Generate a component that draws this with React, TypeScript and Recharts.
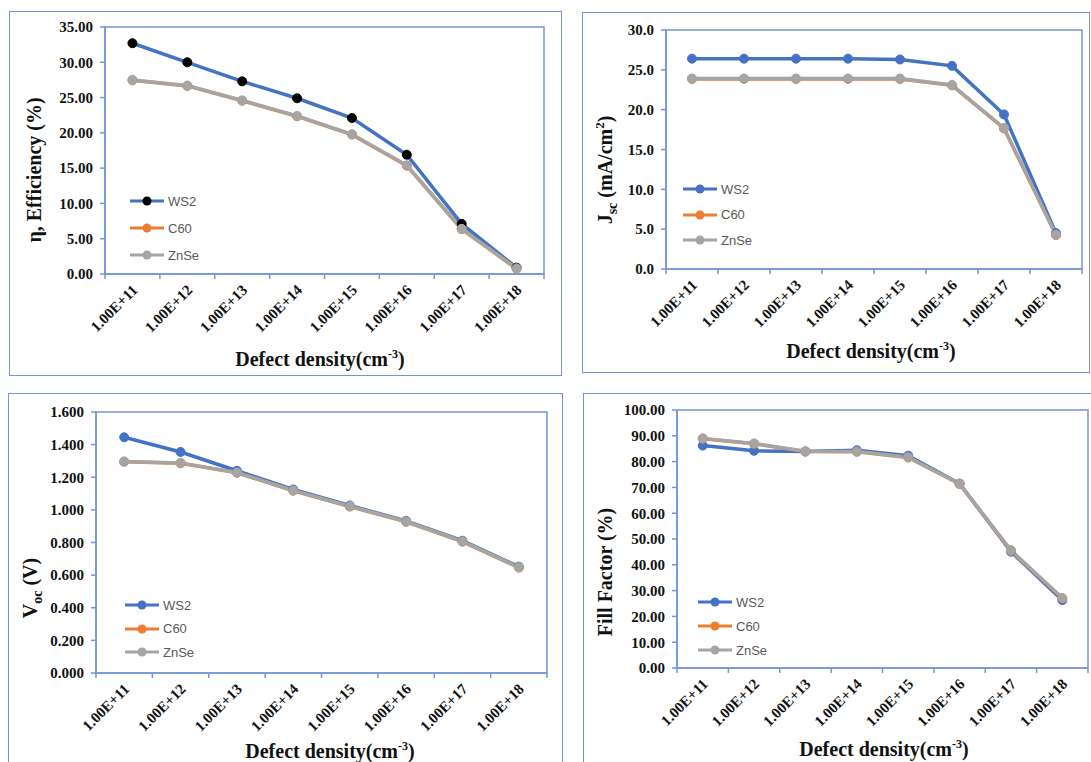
import React from "react";
import { LineChart, Line, XAxis, YAxis, ReferenceArea, Legend } from "recharts";

// defect density categories (x axis)
const densities = ["1.00E+11", "1.00E+12", "1.00E+13", "1.00E+14", "1.00E+15", "1.00E+16", "1.00E+17", "1.00E+18"];

// efficiency (%)
const effWS2 = [32.7, 30.0, 27.3, 24.9, 22.1, 16.9, 7.1, 0.9];
const effC60 = [27.45, 26.65, 24.55, 22.35, 19.75, 15.35, 6.35, 0.75];
const effZnSe = [27.5, 26.7, 24.6, 22.4, 19.8, 15.4, 6.4, 0.8];
const effTicks = [0, 5, 10, 15, 20, 25, 30, 35];

// Jsc (mA/cm2)
const jscWS2 = [26.4, 26.4, 26.4, 26.4, 26.3, 25.5, 19.4, 4.5];
const jscC60 = [23.85, 23.85, 23.85, 23.85, 23.85, 23.05, 17.65, 4.25];
const jscZnSe = [23.9, 23.9, 23.9, 23.9, 23.9, 23.1, 17.7, 4.3];
const jscTicks = [0, 5, 10, 15, 20, 25, 30];

// Voc (V)
const vocWS2 = [1.445, 1.355, 1.24, 1.125, 1.027, 0.933, 0.811, 0.652];
const vocC60 = [1.295, 1.286, 1.227, 1.117, 1.02, 0.927, 0.805, 0.646];
const vocZnSe = [1.297, 1.288, 1.229, 1.119, 1.022, 0.929, 0.807, 0.648];
const vocTicks = [0, 0.2, 0.4, 0.6, 0.8, 1.0, 1.2, 1.4, 1.6];

// fill factor (%)
const ffWS2 = [86.2, 84.2, 83.9, 84.4, 82.3, 71.5, 45.1, 26.3];
const ffC60 = [88.9, 86.9, 83.9, 83.8, 81.6, 71.3, 45.5, 27.0];
const ffZnSe = [89.0, 87.0, 84.0, 83.9, 81.7, 71.4, 45.6, 27.1];
const ffTicks = [0, 10, 20, 30, 40, 50, 60, 70, 80, 90, 100];

const BLUE = "#4472C4";
const ORANGE = "#ED7D31";
const GRAY = "#A5A5A5";
const FRAME = "#7395DA";
const SERIF = "'Liberation Serif', 'Times New Roman', serif";
const SANS = "'Liberation Sans', Arial, sans-serif";

const series = [
  { key: "ws2", name: "WS2", color: BLUE },
  { key: "c60", name: "C60", color: ORANGE },
  { key: "znse", name: "ZnSe", color: GRAY },
];

type Box = { x: number; y: number; w: number; h: number };
type Rect = { l: number; t: number; r: number; b: number };

type PanelProps = {
  box: Box;
  plot: Rect;
  ws2: number[];
  c60: number[];
  znse: number[];
  ticks: number[];
  digits: number;
  yTitle: React.ReactNode;
  yTitleAt: [number, number];
  xTitleAt: [number, number];
  legendAt: [number, number];
  legendGap: number;
  ws2Dot: string;
};

function Panel(p: PanelProps) {
  const { box, plot } = p;
  const n = densities.length;
  const band = (plot.r - plot.l) / n;
  const yMax = p.ticks[p.ticks.length - 1];
  const data = densities.map((name, i) => ({
    x: i + 0.5,
    name,
    ws2: p.ws2[i],
    c60: p.c60[i],
    znse: p.znse[i],
  }));
  const boundaries = Array.from({ length: n + 1 }, (_, i) => i);

  const xTick = (props: any) => {
    const i = Math.round(props.payload.value);
    const label = densities[i];
    if (!label) return <g />;
    const ax = props.x + band / 2 + 6;
    const ay = props.y + 10;
    return (
      <text
        x={ax}
        y={ay}
        transform={`rotate(-45 ${ax} ${ay})`}
        textAnchor="end"
        fontFamily={SERIF}
        fontWeight={700}
        fontSize={15}
        fill="#111"
      >
        {label}
      </text>
    );
  };

  const [ytx, yty] = [p.yTitleAt[0] - box.x, p.yTitleAt[1] - box.y];
  const [xtx, xty] = [p.xTitleAt[0] - box.x, p.xTitleAt[1] - box.y];

  const renderLegend = () => (
    <div style={{ display: "flex", flexDirection: "column" }}>
      {series.map((s) => (
        <div key={s.key} style={{ display: "flex", alignItems: "center", height: p.legendGap }}>
          <svg width={34} height={12}>
            <line x1={0} y1={6} x2={34} y2={6} stroke={s.color} strokeWidth={3} />
            <circle cx={17} cy={6} r={4.5} fill={s.key === "ws2" ? p.ws2Dot : s.color} />
          </svg>
          <span style={{ marginLeft: 4, fontFamily: SANS, fontSize: 13, color: "#595959" }}>{s.name}</span>
        </div>
      ))}
    </div>
  );

  return (
    <>
      <div
        style={{
          position: "absolute",
          left: box.x,
          top: box.y,
          width: box.w,
          height: box.h,
          border: `1.5px solid ${FRAME}`,
          boxSizing: "border-box",
        }}
      />
      <div style={{ position: "absolute", left: box.x, top: box.y }}>
        <LineChart
          width={box.w}
          height={box.h}
          data={data}
          margin={{ top: plot.t - box.y, right: box.x + box.w - plot.r, left: 0, bottom: 0 }}
        >
          <XAxis
            dataKey="x"
            type="number"
            domain={[0, n]}
            ticks={boundaries}
            interval={0}
            height={box.y + box.h - plot.b}
            axisLine={{ stroke: FRAME, strokeWidth: 1.5 }}
            tickLine={{ stroke: FRAME, strokeWidth: 1.5 }}
            tickSize={5}
            tickMargin={2}
            tick={xTick}
            label={() => (
              <text x={xtx} y={xty + 7} textAnchor="middle" fontFamily={SERIF} fontWeight={700} fontSize={20} fill="#111">
                Defect density(cm
                <tspan dy={-8} fontSize={12}>
                  -3
                </tspan>
                <tspan dy={8}>)</tspan>
              </text>
            )}
          />
          <YAxis
            type="number"
            domain={[0, yMax]}
            ticks={p.ticks}
            interval={0}
            width={plot.l - box.x}
            axisLine={{ stroke: FRAME, strokeWidth: 1.5 }}
            tickLine={{ stroke: FRAME, strokeWidth: 1.5 }}
            tickSize={5}
            tickMargin={7}
            tick={{ fontFamily: SERIF, fontWeight: 700, fontSize: 15, fill: "#111" }}
            tickFormatter={(v: number) => v.toFixed(p.digits)}
            label={() => (
              <text
                x={ytx}
                y={yty + 7}
                transform={`rotate(-90 ${ytx} ${yty})`}
                textAnchor="middle"
                fontFamily={SERIF}
                fontWeight={700}
                fontSize={20}
                fill="#111"
              >
                {p.yTitle}
              </text>
            )}
          />
          <ReferenceArea
            x1={0}
            x2={n}
            y1={0}
            y2={yMax}
            fill="none"
            stroke={FRAME}
            strokeWidth={1.5}
            ifOverflow="visible"
          />
          <Legend
            layout="vertical"
            align="center"
            verticalAlign="middle"
            wrapperStyle={{
              left: p.legendAt[0] - box.x,
              top: p.legendAt[1] - p.legendGap / 2 - box.y,
              width: "auto",
            }}
            content={renderLegend}
          />
          {series.map((s) => {
            const dot = s.key === "ws2" ? p.ws2Dot : s.color;
            return (
              <Line
                key={s.key}
                type="linear"
                dataKey={s.key}
                name={s.name}
                stroke={s.color}
                strokeWidth={3.5}
                dot={{ r: 4.5, fill: dot, stroke: dot, strokeWidth: 1 }}
                activeDot={false}
                isAnimationActive={false}
              />
            );
          })}
        </LineChart>
      </div>
    </>
  );
}

export default function App() {
  return (
    <div
      style={{
        position: "absolute",
        left: 0,
        top: 0,
        width: 1091,
        height: 762,
        overflow: "hidden",
        background: "#fff",
      }}
    >
      <Panel
        box={{ x: 9, y: 11, w: 553, h: 365 }}
        plot={{ l: 105, t: 27, r: 544, b: 274 }}
        ws2={effWS2}
        c60={effC60}
        znse={effZnSe}
        ticks={effTicks}
        digits={2}
        yTitle="η, Efficiency (%)"
        yTitleAt={[34, 170]}
        xTitleAt={[320, 359]}
        legendAt={[130, 201]}
        legendGap={27}
        ws2Dot="#000"
      />
      <Panel
        box={{ x: 582, y: 12, w: 508, h: 361 }}
        plot={{ l: 666, t: 30, r: 1082, b: 269 }}
        ws2={jscWS2}
        c60={jscC60}
        znse={jscZnSe}
        ticks={jscTicks}
        digits={1}
        yTitle={
          <>
            J<tspan dy={5} fontSize={14}>sc</tspan>
            <tspan dy={-5}> (mA/cm</tspan>
            <tspan dy={-8} fontSize={13}>2</tspan>
            <tspan dy={8}>)</tspan>
          </>
        }
        yTitleAt={[605, 170]}
        xTitleAt={[871, 351]}
        legendAt={[683, 189]}
        legendGap={25.5}
        ws2Dot={BLUE}
      />
      <Panel
        box={{ x: 8, y: 393, w: 555, h: 380 }}
        plot={{ l: 96, t: 412, r: 547, b: 673 }}
        ws2={vocWS2}
        c60={vocC60}
        znse={vocZnSe}
        ticks={vocTicks}
        digits={3}
        yTitle={
          <>
            V<tspan dy={5} fontSize={14}>oc</tspan>
            <tspan dy={-5}> (V)</tspan>
          </>
        }
        yTitleAt={[30, 588]}
        xTitleAt={[330, 751]}
        legendAt={[125, 605]}
        legendGap={23.5}
        ws2Dot={BLUE}
      />
      <Panel
        box={{ x: 583, y: 393, w: 515, h: 380 }}
        plot={{ l: 677, t: 410, r: 1088, b: 668 }}
        ws2={ffWS2}
        c60={ffC60}
        znse={ffZnSe}
        ticks={ffTicks}
        digits={2}
        yTitle="Fill Factor (%)"
        yTitleAt={[605, 572]}
        xTitleAt={[884, 749]}
        legendAt={[698, 602]}
        legendGap={24}
        ws2Dot={BLUE}
      />
    </div>
  );
}
